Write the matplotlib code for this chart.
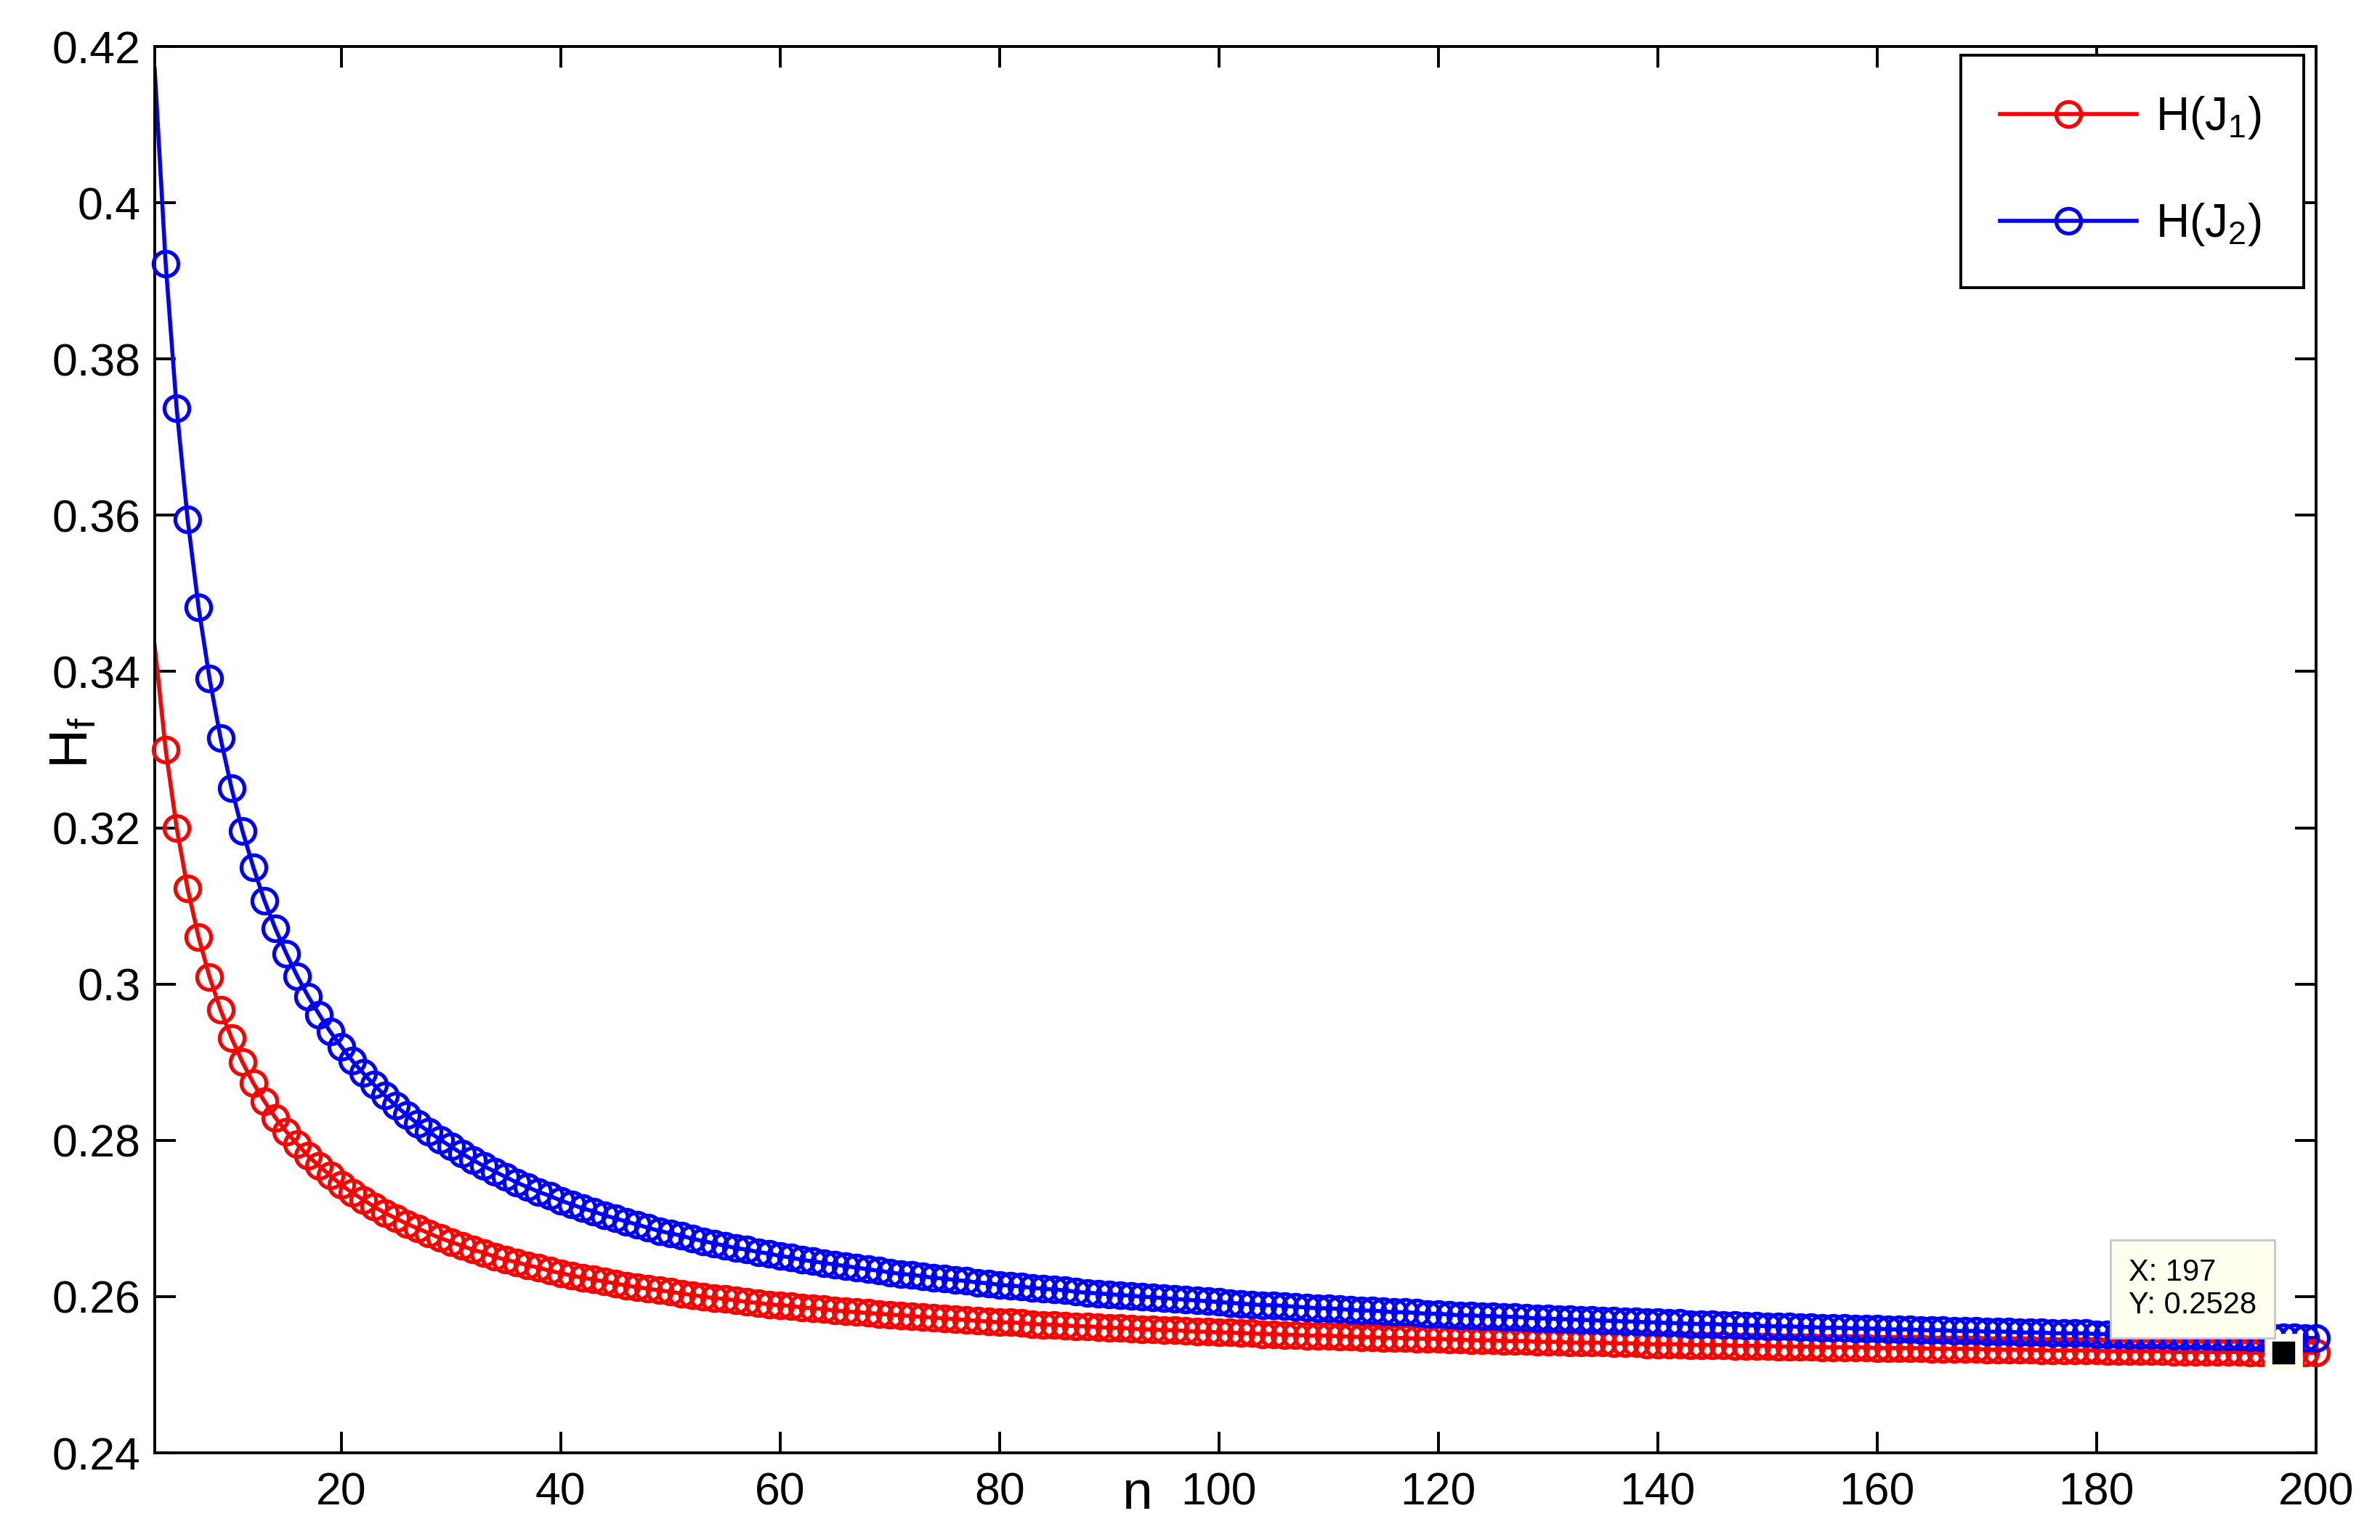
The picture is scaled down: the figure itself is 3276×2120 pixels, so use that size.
import matplotlib
matplotlib.use('Agg')
import matplotlib.pyplot as plt
from matplotlib.lines import Line2D
from matplotlib.ticker import FixedLocator


plt.rcParams['font.family'] = ['Liberation Sans', 'DejaVu Sans']
plt.rcParams['mathtext.fontset'] = 'custom'
plt.rcParams['mathtext.rm'] = 'Liberation Sans'
plt.rcParams['mathtext.default'] = 'regular'

# n = 3 .. 200
n_values = list(range(3, 201))

h_j1 = [
    0.3433, 0.3300, 0.3200, 0.3122, 0.3060, 0.3009, 0.2967, 0.2931, 0.2900, 0.2873,
    0.2850, 0.2829, 0.2811, 0.2795, 0.2780, 0.2767, 0.2755, 0.2743, 0.2733, 0.2724,
    0.2715, 0.2707, 0.2700, 0.2693, 0.2687, 0.2681, 0.2675, 0.2670, 0.2665, 0.2660,
    0.2656, 0.2651, 0.2647, 0.2644, 0.2640, 0.2637, 0.2633, 0.2630, 0.2627, 0.2624,
    0.2622, 0.2619, 0.2617, 0.2614, 0.2612, 0.2610, 0.2608, 0.2606, 0.2604, 0.2602,
    0.2600, 0.2598, 0.2597, 0.2595, 0.2593, 0.2592, 0.2590, 0.2589, 0.2588, 0.2586,
    0.2585, 0.2584, 0.2582, 0.2581, 0.2580, 0.2579, 0.2578, 0.2577, 0.2576, 0.2575,
    0.2574, 0.2573, 0.2572, 0.2571, 0.2570, 0.2569, 0.2568, 0.2567, 0.2567, 0.2566,
    0.2565, 0.2564, 0.2564, 0.2563, 0.2562, 0.2562, 0.2561, 0.2560, 0.2560, 0.2559,
    0.2558, 0.2558, 0.2557, 0.2557, 0.2556, 0.2555, 0.2555, 0.2554, 0.2554, 0.2553,
    0.2553, 0.2552, 0.2552, 0.2551, 0.2551, 0.2550, 0.2550, 0.2550, 0.2549, 0.2549,
    0.2548, 0.2548, 0.2547, 0.2547, 0.2547, 0.2546, 0.2546, 0.2546, 0.2545, 0.2545,
    0.2544, 0.2544, 0.2544, 0.2543, 0.2543, 0.2543, 0.2542, 0.2542, 0.2542, 0.2541,
    0.2541, 0.2541, 0.2541, 0.2540, 0.2540, 0.2540, 0.2539, 0.2539, 0.2539, 0.2539,
    0.2538, 0.2538, 0.2538, 0.2538, 0.2537, 0.2537, 0.2537, 0.2537, 0.2536, 0.2536,
    0.2536, 0.2536, 0.2535, 0.2535, 0.2535, 0.2535, 0.2535, 0.2534, 0.2534, 0.2534,
    0.2534, 0.2534, 0.2533, 0.2533, 0.2533, 0.2533, 0.2533, 0.2532, 0.2532, 0.2532,
    0.2532, 0.2532, 0.2531, 0.2531, 0.2531, 0.2531, 0.2531, 0.2531, 0.2530, 0.2530,
    0.2530, 0.2530, 0.2530, 0.2530, 0.2529, 0.2529, 0.2529, 0.2529, 0.2529, 0.2529,
    0.2529, 0.2528, 0.2528, 0.2528, 0.2528, 0.2528, 0.2528, 0.2528,
]

h_j2 = [
    0.4171, 0.3922, 0.3737, 0.3595, 0.3482, 0.3391, 0.3315, 0.3251, 0.3196, 0.3149,
    0.3107, 0.3071, 0.3039, 0.3010, 0.2984, 0.2961, 0.2939, 0.2920, 0.2902, 0.2886,
    0.2871, 0.2857, 0.2844, 0.2832, 0.2821, 0.2811, 0.2801, 0.2792, 0.2783, 0.2775,
    0.2767, 0.2760, 0.2753, 0.2746, 0.2740, 0.2734, 0.2729, 0.2723, 0.2718, 0.2713,
    0.2709, 0.2704, 0.2700, 0.2696, 0.2692, 0.2688, 0.2684, 0.2681, 0.2678, 0.2674,
    0.2671, 0.2668, 0.2665, 0.2662, 0.2660, 0.2657, 0.2655, 0.2652, 0.2650, 0.2647,
    0.2645, 0.2643, 0.2641, 0.2639, 0.2637, 0.2635, 0.2633, 0.2631, 0.2629, 0.2628,
    0.2626, 0.2624, 0.2623, 0.2621, 0.2620, 0.2618, 0.2617, 0.2615, 0.2614, 0.2613,
    0.2611, 0.2610, 0.2609, 0.2608, 0.2606, 0.2605, 0.2604, 0.2603, 0.2602, 0.2601,
    0.2600, 0.2599, 0.2598, 0.2597, 0.2596, 0.2595, 0.2594, 0.2593, 0.2592, 0.2591,
    0.2590, 0.2589, 0.2589, 0.2588, 0.2587, 0.2586, 0.2585, 0.2585, 0.2584, 0.2583,
    0.2582, 0.2582, 0.2581, 0.2580, 0.2580, 0.2579, 0.2578, 0.2578, 0.2577, 0.2576,
    0.2576, 0.2575, 0.2575, 0.2574, 0.2574, 0.2573, 0.2572, 0.2572, 0.2571, 0.2571,
    0.2570, 0.2570, 0.2569, 0.2569, 0.2568, 0.2568, 0.2567, 0.2567, 0.2566, 0.2566,
    0.2565, 0.2565, 0.2565, 0.2564, 0.2564, 0.2563, 0.2563, 0.2562, 0.2562, 0.2562,
    0.2561, 0.2561, 0.2560, 0.2560, 0.2560, 0.2559, 0.2559, 0.2559, 0.2558, 0.2558,
    0.2558, 0.2557, 0.2557, 0.2557, 0.2556, 0.2556, 0.2556, 0.2555, 0.2555, 0.2555,
    0.2554, 0.2554, 0.2554, 0.2553, 0.2553, 0.2553, 0.2553, 0.2552, 0.2552, 0.2552,
    0.2551, 0.2551, 0.2551, 0.2551, 0.2550, 0.2550, 0.2550, 0.2550, 0.2549, 0.2549,
    0.2549, 0.2548, 0.2548, 0.2548, 0.2548, 0.2548, 0.2547, 0.2547,
]

series_labels = ['H(J$_1$) ', 'H(J$_2$) ']
series_colors = ['#ff0000', '#0000ff']

x_ticks = [20, 40, 60, 80, 100, 120, 140, 160, 180, 200]
y_ticks = [0.24, 0.26, 0.28, 0.30, 0.32, 0.34, 0.36, 0.38, 0.40, 0.42]
y_tick_labels = ['0.24', '0.26', '0.28', '0.3', '0.32', '0.34', '0.36', '0.38', '0.4', '0.42']

tip_n = 197

fig = plt.figure(figsize=(16.38, 10.6), dpi=200)
ax = fig.add_axes([0.0650, 0.0566, 0.9081, 0.9132])

lw, ms, mew = 2.0, 12.3, 1.9
handles = []
for ys, col, lab in zip([h_j1, h_j2], series_colors, series_labels):
    ax.plot(n_values, ys, '-', color=col, lw=lw, zorder=2)
    # marker at the first point is left out (sits on the axis edge)
    ax.plot(n_values[1:], ys[1:], 'o', color=col, mfc='none', ms=ms, mew=mew,
            clip_on=False, zorder=3)
    handles.append(Line2D([], [], color=col, lw=lw, marker='o', mfc='none',
                          ms=ms, mew=mew, label=lab))

ax.set_xlim(3, 200)
ax.set_ylim(0.24, 0.42)
ax.xaxis.set_major_locator(FixedLocator(x_ticks))
ax.set_yticks(y_ticks)
ax.set_yticklabels(y_tick_labels)

for sp in ax.spines.values():
    sp.set_linewidth(1.4)
ax.tick_params(direction='in', length=10.5, width=1.4, labelsize=22.5,
               top=True, right=True, pad=7)
ax.tick_params(axis='x', pad=9)

ax.set_xlabel('n', fontsize=27)
ax.xaxis.set_label_coords(0.4547, -0.012)
ax.set_ylabel('H$_f$', fontsize=27)
ax.yaxis.set_label_coords(-0.026, 0.505)

leg = ax.legend(handles=handles, loc='upper right', fontsize=23,
                bbox_to_anchor=(3171 / 3276, 1 - 76 / 2120),
                bbox_transform=fig.transFigure, borderaxespad=0,
                fancybox=False, edgecolor='black', framealpha=1,
                handlelength=2.95, handletextpad=0.4, labelspacing=1.3,
                borderpad=0.85)
leg.get_frame().set_linewidth(1.4)

# data tip
i = n_values.index(tip_n)
tip_y = h_j1[i]
ax.plot([tip_n], [tip_y], 's', color='black', ms=15.3, mec='#fffff0', mew=3.8,
        clip_on=False, zorder=5)
ax.annotate('X: %d\nY: %.4f' % (tip_n, tip_y), xy=(tip_n, tip_y),
            xytext=(-13, 16.5), textcoords='offset points',
            ha='right', va='bottom', multialignment='left',
            fontsize=15, linespacing=1.15,
            bbox=dict(boxstyle='square,pad=0.6', fc='#fffff0', ec='#c8c8c8', lw=1.0),
            zorder=6)

fig.savefig('out.png', dpi=200)
